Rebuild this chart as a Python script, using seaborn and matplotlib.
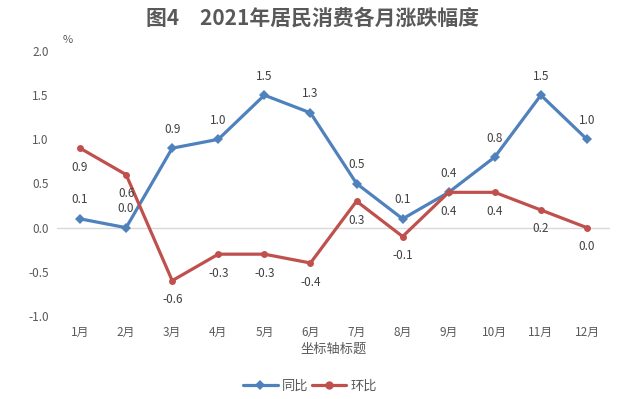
import matplotlib
matplotlib.use("Agg")
import matplotlib.pyplot as plt
import seaborn as sns
import pandas as pd
from matplotlib.lines import Line2D

months = ["1月", "2月", "3月", "4月", "5月", "6月", "7月", "8月", "9月", "10月", "11月", "12月"]
yoy = [0.1, 0.0, 0.9, 1.0, 1.5, 1.3, 0.5, 0.1, 0.4, 0.8, 1.5, 1.0]
mom = [0.9, 0.6, -0.6, -0.3, -0.3, -0.4, 0.3, -0.1, 0.4, 0.4, 0.2, 0.0]
series_names = ["同比", "环比"]
colors = ["#4F81BD", "#C0504D"]
yticks = [-1.0, -0.5, 0.0, 0.5, 1.0, 1.5, 2.0]

sns.set_theme(style="white")
plt.rcParams["font.family"] = ["Noto Sans CJK SC", "DejaVu Sans"]

df = pd.DataFrame({
    "x": list(range(len(months))) * 2,
    "value": yoy + mom,
    "series": [series_names[0]] * len(months) + [series_names[1]] * len(months),
})

fig = plt.figure(figsize=(6.23, 3.99), dpi=100)
ax = fig.add_axes([57 / 623, 1 - 316 / 399, (610 - 57) / 623, (316 - 51) / 399])

sns.lineplot(data=df, x="x", y="value", hue="series", style="series",
             markers={"同比": "D", "环比": "o"}, dashes=False,
             palette=dict(zip(series_names, colors)), linewidth=2.3,
             markersize=5, markeredgewidth=0, ax=ax, legend=False)

ax.set_xlim(-0.5, len(months) - 0.5)
ax.set_ylim(-1.0, 2.0)
ax.set_yticks(yticks)
ax.set_yticklabels([f"{v:.1f}" for v in yticks], fontsize=8.5, color="#595959")
ax.set_xticks(range(len(months)))
ax.set_xticklabels(months, fontsize=8.5, color="#595959")
ax.tick_params(axis="x", length=0, pad=7)
ax.tick_params(axis="y", length=0, pad=6)
ax.set_xlabel("坐标轴标题", fontsize=9.5, color="#595959", labelpad=3)
ax.set_ylabel("")
for s in ax.spines.values():
    s.set_visible(False)
ax.axhline(0, color="#D9D9D9", linewidth=1, zorder=0)

for i, v in enumerate(yoy):
    ax.annotate(f"{v:.1f}", (i, v), xytext=(0, 9), textcoords="offset points",
                ha="center", va="bottom", fontsize=8.5, color="#404040")
for i, v in enumerate(mom):
    ax.annotate(f"{v:.1f}", (i, v), xytext=(0, -9), textcoords="offset points",
                ha="center", va="top", fontsize=8.5, color="#404040")

fig.text(68 / 623, 1 - 40 / 399, "%", fontsize=8, color="#595959", ha="center", va="center")
fig.text(312 / 623, 1 - 18 / 399, "图4　2021年居民消费各月涨跌幅度", fontsize=15, fontweight="bold",
         color="#595959", ha="center", va="center")

handles = [Line2D([], [], color=colors[0], marker="D", markersize=5, linewidth=2.3, markeredgewidth=0),
           Line2D([], [], color=colors[1], marker="o", markersize=6, linewidth=2.3, markeredgewidth=0)]
fig.legend(handles, series_names, loc="center", bbox_to_anchor=(310 / 623, 1 - 386 / 399),
           ncol=2, frameon=False, fontsize=9.5, labelcolor="#595959", handlelength=2.6,
           columnspacing=0.3, handletextpad=0.3)

fig.savefig("out.png", dpi=100)
